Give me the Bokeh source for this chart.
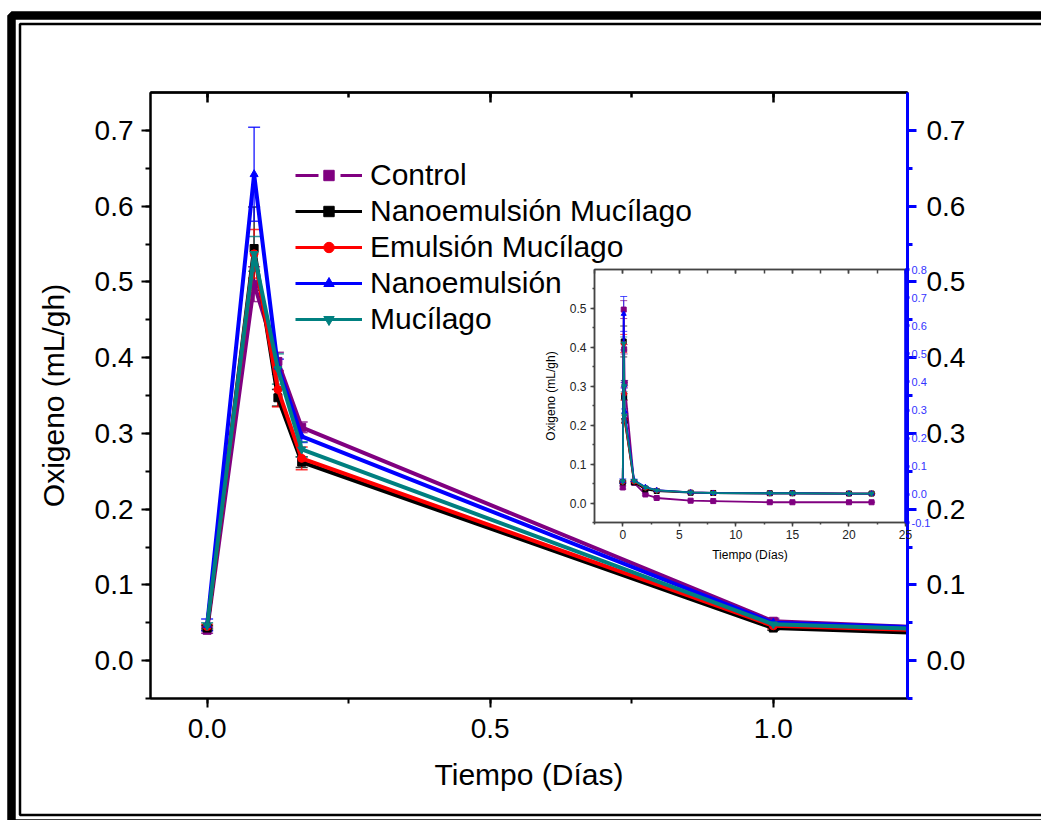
from bokeh.plotting import figure
from bokeh.models import (Range1d, LinearAxis, SingleIntervalTicker, NumeralTickFormatter,
                          CustomJSTickFormatter, Legend, LegendItem, Whisker, TeeHead,
                          ColumnDataSource)
from bokeh.embed import file_html
from bokeh.resources import INLINE

FONT = "Liberation Sans"

# ---------------- data ----------------
tiempo = [0.0, 0.083, 0.125, 0.167, 1.0, 2.0, 3.0, 6.0, 8.0, 13.0, 15.0, 20.0, 22.0]

control = [0.040, 0.497, 0.395, 0.308, 0.052, 0.022, 0.013, 0.006, 0.005, 0.002, 0.002, 0.002, 0.002]
control_err = [0.004, 0.023, 0.012, 0.007, 0.004, 0.002, 0.002, 0.001, 0.001, 0.001, 0.001, 0.001, 0.001]

nano_muc = [0.043, 0.544, 0.347, 0.262, 0.043, 0.018, 0.012, 0.006, 0.005, 0.004, 0.004, 0.003, 0.003]
nano_muc_err = [0.003, 0.055, 0.011, 0.007, 0.003, 0.002, 0.001, 0.001, 0.001, 0.001, 0.001, 0.001, 0.001]

emul_muc = [0.045, 0.537, 0.358, 0.267, 0.046, 0.024, 0.014, 0.007, 0.005, 0.004, 0.004, 0.003, 0.003]
emul_muc_err = [0.003, 0.032, 0.023, 0.015, 0.004, 0.002, 0.001, 0.001, 0.001, 0.001, 0.001, 0.001, 0.001]

nano = [0.047, 0.642, 0.388, 0.296, 0.050, 0.026, 0.015, 0.007, 0.005, 0.004, 0.004, 0.003, 0.003]
nano_err = [0.008, 0.062, 0.010, 0.008, 0.004, 0.002, 0.001, 0.001, 0.001, 0.001, 0.001, 0.001, 0.001]

muc = [0.046, 0.537, 0.385, 0.279, 0.048, 0.025, 0.014, 0.007, 0.005, 0.004, 0.004, 0.003, 0.003]
muc_err = [0.004, 0.023, 0.020, 0.010, 0.004, 0.002, 0.001, 0.001, 0.001, 0.001, 0.001, 0.001, 0.001]

labels = ["Control", "Nanoemulsión Mucílago", "Emulsión Mucílago", "Nanoemulsión", "Mucílago"]
values = [control, nano_muc, emul_muc, nano, muc]
errors = [control_err, nano_muc_err, emul_muc_err, nano_err, muc_err]
colors = ["#800080", "#000000", "#ff0000", "#0000ff", "#008080"]
markers = ["square", "square", "circle", "triangle", "inverted_triangle"]
legend_dash = ["23 22", "solid", "solid", "solid", "solid"]
axis_of = ["default", "y2", "y2", "y2", "y2"]

# ---------------- page background with double frame ----------------
bg = figure(width=1041, height=820, x_range=Range1d(0, 1041), y_range=Range1d(820, 0),
            output_backend="svg", toolbar_location=None, title=None,
            x_axis_location=None, y_axis_location=None, min_border=0)
bg.xgrid.visible = False
bg.ygrid.visible = False
bg.outline_line_color = None
bg.background_fill_color = "white"
bg.border_fill_color = "white"
bg.quad(left=[11], right=[1100], top=[15], bottom=[823], fill_color=None,
        line_color="black", line_width=8.5)
bg.quad(left=[19.5], right=[1100], top=[23.5], bottom=[814.5], fill_color=None,
        line_color="black", line_width=2.5)

# ---------------- main figure ----------------
p = figure(width=1041, height=820, x_range=Range1d(-0.1, 1.237), y_range=Range1d(-0.05, 0.75),
           output_backend="svg", toolbar_location=None, title=None,
           min_border_left=150, min_border_right=134, min_border_top=92, min_border_bottom=122,
           styles={"position": "absolute", "left": "0px", "top": "0px"})
p.extra_y_ranges = {"y2": Range1d(-0.05, 0.75)}
p.xgrid.visible = False
p.ygrid.visible = False
p.outline_line_color = "black"
p.outline_line_width = 2
p.background_fill_color = "white"
p.border_fill_alpha = 0


def style_axis(ax, size, color="black", tick_out=9, minor_out=5, lw=2):
    ax.axis_line_color = color
    ax.axis_line_width = lw
    ax.major_tick_line_color = color
    ax.minor_tick_line_color = color
    ax.major_tick_line_width = lw
    ax.minor_tick_line_width = lw
    ax.major_tick_out = tick_out
    ax.major_tick_in = 0
    ax.minor_tick_out = minor_out
    ax.minor_tick_in = 0
    ax.major_label_text_font = FONT
    ax.major_label_text_font_size = size
    ax.major_label_text_color = "black"
    ax.axis_label_text_font = FONT
    ax.axis_label_text_font_style = "normal"
    ax.axis_label_text_color = "black"


xax = p.xaxis[0]
xax.ticker = SingleIntervalTicker(interval=0.5, num_minor_ticks=2)
xax.formatter = NumeralTickFormatter(format="0.0")
style_axis(xax, "28px")
xax.major_label_standoff = 11
xax.axis_label = "Tiempo (Días)"
xax.axis_label_text_font_size = "30px"
xax.axis_label_standoff = 17

yax = p.yaxis[0]
yax.ticker = SingleIntervalTicker(interval=0.1, num_minor_ticks=2)
yax.formatter = NumeralTickFormatter(format="0.0")
style_axis(yax, "28px")
yax.major_label_standoff = 8
yax.axis_label = "Oxigeno (mL/gh)"
yax.axis_label_text_font_size = "30px"
yax.axis_label_standoff = 22

rax = LinearAxis(y_range_name="y2", ticker=SingleIntervalTicker(interval=0.1, num_minor_ticks=2),
                 formatter=NumeralTickFormatter(format="0.0"))
style_axis(rax, "28px", color="#0000ff", lw=3)
rax.major_label_text_color = "black"
rax.major_label_standoff = 10
p.add_layout(rax, "right")

tax = LinearAxis(ticker=SingleIntervalTicker(interval=0.5, num_minor_ticks=2),
                 formatter=CustomJSTickFormatter(code="return ''"))
style_axis(tax, "10px", lw=2.5)
tax.major_tick_out = 0
tax.major_tick_in = 10
tax.minor_tick_out = 0
tax.minor_tick_in = 5
p.add_layout(tax, "above")

nan = float("nan")
items = []
for lab, vals, errs, col, mk, yr, dash in zip(labels, values, errors, colors, markers, axis_of, legend_dash):
    src = ColumnDataSource(dict(x=tiempo, y=vals,
                                lo=[v - e for v, e in zip(vals, errs)],
                                hi=[v + e for v, e in zip(vals, errs)]))
    w = Whisker(source=src, base="x", upper="hi", lower="lo", y_range_name=yr,
                line_color=col, line_width=1.5, line_alpha=0.8,
                upper_head=TeeHead(size=12, line_color=col, line_width=1.5, line_alpha=0.8),
                lower_head=TeeHead(size=12, line_color=col, line_width=1.5, line_alpha=0.8))
    p.add_layout(w)
    p.line("x", "y", source=src, line_color=col, line_width=4, y_range_name=yr)
    sc = p.scatter("x", "y", source=src, marker=mk, size=8, color=col, y_range_name=yr)
    # legend-only line glyph (thinner; dashed for the control series)
    key_line = p.line(x=[nan, nan], y=[nan, nan], line_color=col, line_width=3, line_dash=dash)
    items.append(LegendItem(label=lab, renderers=[key_line, sc]))

legend = Legend(items=items, location=(145, 362), orientation="vertical",
                label_text_font=FONT, label_text_font_size="30px", label_text_color="black",
                glyph_width=67, glyph_height=26, label_standoff=8, spacing=2,
                padding=0, margin=0, border_line_color=None, background_fill_alpha=0)
p.add_layout(legend)

# ---------------- inset ----------------
q = figure(width=395, height=312, x_range=Range1d(-2.5, 25), y_range=Range1d(-0.05, 0.6),
           output_backend="svg", toolbar_location=None, title=None,
           min_border_left=51, min_border_right=30, min_border_top=14, min_border_bottom=45,
           styles={"position": "absolute", "left": "540px", "top": "255px"})
q.extra_y_ranges = {"y2": Range1d(-0.1, 0.8)}
q.xgrid.visible = False
q.ygrid.visible = False
q.outline_line_color = "#555555"
q.outline_line_width = 1.5
q.background_fill_color = "white"
q.border_fill_alpha = 0

qx = q.xaxis[0]
qx.ticker = SingleIntervalTicker(interval=5, num_minor_ticks=2)
qx.formatter = NumeralTickFormatter(format="0")
style_axis(qx, "12px", color="#444444", tick_out=4, minor_out=2, lw=1.5)
qx.major_label_text_color = "#222222"
qx.major_label_standoff = 3
qx.axis_label = "Tiempo (Días)"
qx.axis_label_text_font_size = "12px"
qx.axis_label_standoff = 6

qy = q.yaxis[0]
qy.ticker = SingleIntervalTicker(interval=0.1, num_minor_ticks=2)
qy.formatter = NumeralTickFormatter(format="0.0")
style_axis(qy, "12px", color="#444444", tick_out=4, minor_out=2, lw=1.5)
qy.major_label_text_color = "#222222"
qy.major_label_standoff = 4
qy.axis_label = "Oxigeno (mL/gh)"
qy.axis_label_text_font_size = "12px"
qy.axis_label_standoff = 9

qr = LinearAxis(y_range_name="y2", ticker=SingleIntervalTicker(interval=0.1, num_minor_ticks=2),
                formatter=NumeralTickFormatter(format="0.0"))
style_axis(qr, "11px", color="#0000ff", tick_out=4, minor_out=2, lw=2.5)
qr.major_label_text_color = "#3333ff"
qr.major_label_standoff = 2
q.add_layout(qr, "right")

qt = LinearAxis(ticker=SingleIntervalTicker(interval=5, num_minor_ticks=2),
                formatter=CustomJSTickFormatter(code="return ''"))
style_axis(qt, "8px", color="#444444", lw=1.5)
qt.major_tick_out = 0
qt.major_tick_in = 4
qt.minor_tick_out = 0
qt.minor_tick_in = 4
q.add_layout(qt, "above")

for lab, vals, errs, col, mk, yr in zip(labels, values, errors, colors, markers, axis_of):
    src = ColumnDataSource(dict(x=tiempo, y=vals,
                                lo=[v - e for v, e in zip(vals, errs)],
                                hi=[v + e for v, e in zip(vals, errs)]))
    w = Whisker(source=src, base="x", upper="hi", lower="lo", y_range_name=yr,
                line_color=col, line_width=1, line_alpha=0.7,
                upper_head=TeeHead(size=7, line_color=col, line_width=1, line_alpha=0.7),
                lower_head=TeeHead(size=7, line_color=col, line_width=1, line_alpha=0.7))
    q.add_layout(w)
    q.line("x", "y", source=src, line_color=col, line_width=1.8, y_range_name=yr)
    q.scatter("x", "y", source=src, marker=mk, size=5, color=col, y_range_name=yr)

# three independent roots stacked on the page: frame, main chart, inset
open("out.html", "w").write(file_html([bg, p, q], INLINE))
